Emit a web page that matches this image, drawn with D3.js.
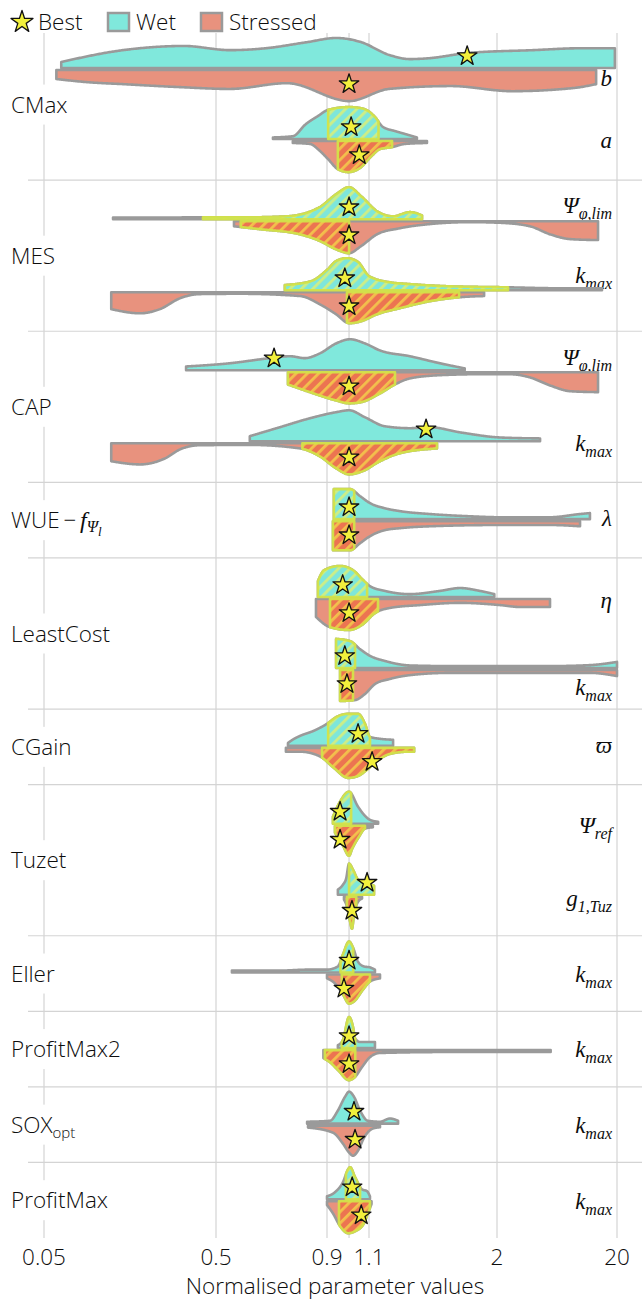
<!DOCTYPE html>
<html><head><meta charset="utf-8">
<script src="https://cdn.jsdelivr.net/npm/d3@7"></script>
<style>body{margin:0;background:#fff}svg{display:block}</style>
</head><body>
<svg id="c" width="642" height="1302"></svg>
<script>
// ---------------- data ----------------
const groups = ["CMax","MES","CAP","WUE","LeastCost","CGain","Tuzet","Eller","ProfitMax2","SOXopt","ProfitMax"];
const rowGroup = ["CMax","CMax","MES","MES","CAP","CAP","WUE","LeastCost","LeastCost","CGain","Tuzet","Tuzet","Eller","ProfitMax2","SOXopt","ProfitMax"];
const rowParam = ["b","a","Ψ_{φ,lim}","k_{max}","Ψ_{φ,lim}","k_{max}","λ","η","k_{max}","ϖ","Ψ_{ref}","g_{1,Tuz}","k_{max}","k_{max}","k_{max}","k_{max}"];
const tickValues = [0.05,0.5,0.9,1.1,2,20];
const gridValues = [0.05,0.5,0.9,1,1.1,2,20];
const legendLabels = ["Best","Wet","Stressed"];

// [normalised value, relative density]
const wetDensity = [
 [[0.063,0.19],[0.144,0.56],[0.326,0.69],[0.538,0.56],[0.652,0.62],[0.81,0.81],[0.94,0.94],[1.059,0.81],[1.208,0.41],[1.332,0.28],[1.463,0.31],[1.739,0.47],[3.99,0.56],[10.2,0.62],[19.2,0.62]],
 [[0.676,0.05],[0.751,0.09],[0.805,0.47],[0.858,0.72],[0.904,0.91],[1.0,1.0],[1.054,0.97],[1.095,0.88],[1.131,0.69],[1.174,0.38],[1.242,0.25],[1.301,0.16],[1.376,0.05]],
 [[0.126,0.05],[0.236,0.05],[0.42,0.06],[0.599,0.06],[0.728,0.09],[0.867,0.38],[0.94,0.78],[1.0,1.0],[1.059,0.72],[1.142,0.25],[1.231,0.09],[1.332,0.22],[1.409,0.12]],
 [[0.72,0.16],[0.826,0.28],[0.904,0.66],[0.94,0.91],[0.991,1.0],[1.044,0.88],[1.1,0.44],[1.208,0.25],[1.332,0.19],[1.613,0.12],[2.47,0.09],[6.7,0.06],[15.0,0.06]],
 [[0.335,0.12],[0.538,0.22],[0.665,0.38],[0.74,0.44],[0.8,0.38],[0.867,0.53],[0.94,0.84],[1.005,0.97],[1.079,0.84],[1.158,0.62],[1.332,0.44],[1.532,0.22],[1.72,0.06]],
 [[0.598,0.16],[0.701,0.44],[0.822,0.72],[0.94,0.91],[1.0,0.97],[1.079,0.75],[1.185,0.47],[1.332,0.41],[1.463,0.44],[1.683,0.28],[2.12,0.12],[4.57,0.09]],
 [[0.93,0.94],[1.005,0.94],[1.054,0.72],[1.105,0.5],[1.185,0.34],[1.271,0.25],[1.463,0.16],[1.763,0.09],[2.12,0.06],[5.53,0.06],[9.84,0.16],[11.9,0.19]],
 [[0.858,0.5],[0.887,0.84],[0.958,0.97],[1.019,0.84],[1.069,0.53],[1.105,0.34],[1.185,0.19],[1.332,0.09],[1.532,0.19],[1.683,0.28],[1.847,0.19],[1.975,0.09]],
 [[0.94,0.91],[1.005,0.84],[1.054,0.59],[1.105,0.38],[1.185,0.22],[1.332,0.08],[1.606,0.06],[5.53,0.06],[11.9,0.09],[20,0.19]],
 [[0.732,0.09],[0.75,0.19],[0.78,0.31],[0.839,0.47],[0.9,0.69],[0.944,0.91],[0.996,1.0],[1.044,1.0],[1.079,0.69],[1.105,0.28],[1.158,0.22],[1.231,0.19]],
 [[0.926,0.22],[0.958,0.69],[1.0,1.0],[1.044,0.53],[1.074,0.28],[1.105,0.12],[1.148,0.06]],
 [[0.948,0.16],[0.971,0.31],[0.986,0.5],[1.0,0.97],[1.019,0.78],[1.044,0.47],[1.094,0.34],[1.126,0.28]],
 [[0.544,0.06],[0.701,0.06],[0.81,0.09],[0.9,0.09],[0.948,0.19],[0.971,0.56],[1.0,0.97],[1.019,0.78],[1.044,0.34],[1.074,0.19],[1.105,0.16],[1.131,0.09]],
 [[0.948,0.09],[0.971,0.25],[1.0,0.97],[1.019,0.66],[1.029,0.31],[1.054,0.19],[1.131,0.19]],
 [[0.81,0.06],[0.913,0.09],[0.948,0.41],[0.981,0.84],[1.0,1.0],[1.024,0.84],[1.054,0.41],[1.094,0.09],[1.158,0.06],[1.213,0.16],[1.26,0.09]],
 [[0.9,0.09],[0.935,0.22],[0.971,0.53],[0.996,0.94],[1.005,1.0],[1.029,0.69],[1.064,0.31],[1.09,0.25],[1.105,0.09]]
];
const stressDensity = [
 [[0.059,0.28],[0.09,0.38],[0.144,0.44],[0.3,0.53],[0.538,0.59],[0.728,0.41],[1.0,0.97],[1.208,0.59],[1.613,0.5],[2.67,0.66],[8.77,0.56],[13.4,0.44]],
 [[0.751,0.06],[0.822,0.09],[0.867,0.31],[0.904,0.56],[0.948,0.88],[0.996,0.97],[1.054,0.84],[1.113,0.47],[1.158,0.25],[1.225,0.19],[1.301,0.09],[1.442,0.06]],
 [[0.55,0.16],[0.631,0.25],[0.78,0.41],[0.867,0.62],[0.94,0.88],[1.0,1.0],[1.059,0.78],[1.142,0.41],[1.271,0.22],[1.463,0.09],[1.763,0.03],[2.12,0.05],[3.77,0.16],[5.53,0.41],[8.12,0.56],[13.9,0.59]],
 [[0.123,0.53],[0.181,0.66],[0.236,0.53],[0.309,0.19],[0.4,0.06],[0.568,0.05],[0.78,0.12],[0.867,0.38],[0.94,0.69],[1.0,0.97],[1.059,0.91],[1.142,0.69],[1.271,0.5],[1.463,0.28],[1.675,0.16],[1.883,0.12]],
 [[0.732,0.38],[0.822,0.62],[0.94,0.88],[1.0,0.97],[1.054,0.94],[1.158,0.66],[1.242,0.38],[1.332,0.19],[1.532,0.09],[1.847,0.06],[2.57,0.06],[3.77,0.16],[5.53,0.41],[8.12,0.59],[13.9,0.62]],
 [[0.123,0.56],[0.181,0.66],[0.253,0.47],[0.309,0.19],[0.4,0.06],[0.598,0.05],[0.78,0.16],[0.867,0.41],[0.94,0.78],[1.0,0.97],[1.064,0.88],[1.158,0.56],[1.271,0.31],[1.511,0.16]],
 [[0.926,0.91],[1.005,0.91],[1.054,0.69],[1.105,0.47],[1.185,0.28],[1.271,0.22],[1.463,0.16],[2.12,0.12],[5.53,0.12],[9.84,0.16]],
 [[0.849,0.56],[0.913,0.88],[1.0,0.97],[1.064,0.81],[1.131,0.44],[1.213,0.28],[1.396,0.19],[1.683,0.12],[2.12,0.19],[3.11,0.25],[5.53,0.25]],
 [[0.958,0.97],[1.029,0.94],[1.079,0.75],[1.131,0.44],[1.213,0.28],[1.332,0.16],[1.606,0.09],[5.53,0.09],[11.9,0.09],[20,0.19]],
 [[0.724,0.12],[0.78,0.12],[0.839,0.19],[0.877,0.31],[0.929,0.62],[0.996,0.94],[1.044,0.88],[1.094,0.66],[1.142,0.41],[1.213,0.19],[1.32,0.12],[1.358,0.12]],
 [[0.935,0.22],[0.971,0.62],[1.0,0.94],[1.015,0.72],[1.049,0.34],[1.079,0.09],[1.12,0.05]],
 [[0.976,0.09],[0.99,0.31],[1.005,0.78],[1.014,1.0],[1.024,0.56],[1.044,0.16],[1.064,0.06]],
 [[0.9,0.12],[0.935,0.28],[0.971,0.62],[1.0,0.91],[1.024,0.84],[1.069,0.47],[1.105,0.22],[1.158,0.12]],
 [[0.883,0.25],[0.913,0.38],[0.948,0.62],[1.0,0.94],[1.029,0.84],[1.064,0.53],[1.105,0.22],[1.158,0.09],[1.606,0.06],[5.6,0.06]],
 [[0.814,0.06],[0.926,0.22],[0.971,0.56],[1.0,0.84],[1.019,0.94],[1.044,0.78],[1.074,0.38],[1.12,0.09],[1.158,0.05]],
 [[0.9,0.12],[0.926,0.38],[0.958,0.78],[0.996,1.0],[1.029,0.94],[1.074,0.69],[1.094,0.38],[1.113,0.09]]
];
// hatched (highlighted) value range per half, null = none
const wetHatch = [null,[0.905,1.15],[0.42,1.409],[0.72,2.47],null,null,[0.93,1.025],[0.858,1.09],[0.94,1.029],[0.905,1.105],[0.926,1.01],[1.0,1.126],[0.96,1.02],[0.966,1.03],null,[0.985,1.054]];
const stressHatch = [null,[0.948,1.225],[0.57,1.0],[0.99,1.675],[0.732,1.242],[0.79,1.511],[0.926,1.025],[0.913,1.147],[0.958,1.019],[0.877,1.358],[0.935,1.079],[0.99,1.035],[0.966,1.105],[0.89,1.03],null,[0.953,1.105]];
const wetBest = [1.74,1.01,1.0,0.98,0.68,1.436,1.0,0.97,0.98,1.044,0.958,1.09,1.0,1.0,1.024,1.015];
const stressBest = [1.0,1.05,1.0,1.0,1.0,1.0,1.0,1.0,0.99,1.116,0.958,1.014,0.976,1.0,1.029,1.06];

// ---------------- layout ----------------
const labelDy = [11,2,-13,-14,-12,3,0,4,20,0,2,4,2,2,2,3];
const C = {wet:"#80e8dc", stress:"#e8927e", edge:"#9a9a9a", hl:"#d3e349", grid:"#d4d4d4", text:"#0d0d0d"};
const SANS = "'Open Sans','Noto Sans',sans-serif";
const SERIF = "'Liberation Serif','DejaVu Serif',serif";
const SW = 300, FS = 22.5;

const svg = d3.select("#c");
const defs = svg.append("defs");
function mkPattern(id,bg,stripe){
  const p = defs.append("pattern").attr("id",id).attr("patternUnits","userSpaceOnUse")
    .attr("width",8).attr("height",8).attr("patternTransform","rotate(45)");
  p.append("rect").attr("width",8).attr("height",8).attr("fill",bg);
  p.append("rect").attr("width",2.8).attr("height",8).attr("fill",stripe);
}
mkPattern("hWet","#7ee6da","#cdee86");
mkPattern("hStress","#ec7451","#f3c04c");

const x = d3.scaleLinear().domain(tickValues.map(Math.log)).range([44,216,327,369,497,617]);
const X = v => x(Math.log(v));
const hScale = d3.scaleLinear().domain([0,1]).range([0,32]);
const rowScale = d3.scaleBand().domain(d3.range(rowGroup.length)).range([29,1238]);

const gInfo = groups.map(g=>{
  const idx = rowGroup.map((r,i)=>r===g?i:-1).filter(i=>i>=0);
  const top = rowScale(idx[0]), bot = rowScale(idx[idx.length-1])+rowScale.bandwidth();
  return {g, idx, top, bot, mid:(top+bot)/2};
});
const baseY = rowGroup.map((g,i)=>{
  const gi = gInfo.find(d=>d.g===g);
  if (gi.idx.length===1) return gi.mid;
  return gi.mid + (gi.idx.indexOf(i)===0?-1:1)*35.5;
});

// grid
const grid = svg.append("g");
grid.selectAll("line.v").data(gridValues).join("line")
  .attr("x1",d=>X(d)).attr("x2",d=>X(d)).attr("y1",33).attr("y2",1238)
  .attr("stroke",C.grid).attr("stroke-width",1.2);
grid.selectAll("line.h").data(gInfo.slice(0,-1)).join("line")
  .attr("x1",28).attr("x2",642).attr("y1",d=>d.bot).attr("y2",d=>d.bot)
  .attr("stroke",C.grid).attr("stroke-width",1.2);

// group labels with white backgrounds
const gl = svg.append("g");
gInfo.forEach(d=>{
  const bg = gl.append("rect").attr("fill","#fff");
  const t = gl.append("text").attr("x",11).attr("y",d.mid+8)
    .attr("font-family",SANS).attr("font-weight",SW).attr("font-size",FS).attr("fill",C.text);
  if (d.g==="WUE"){
    t.append("tspan").text("WUE\u2009\u2212\u2009");
    t.append("tspan").attr("font-family",SERIF).attr("font-style","italic").attr("font-size",24).text("f");
    t.append("tspan").attr("font-family",SERIF).attr("font-style","italic").attr("font-size",16).attr("dy",4).text("Ψ");
    t.append("tspan").attr("font-family",SERIF).attr("font-style","italic").attr("font-size",13).attr("dy",4).text("l");
  } else if (d.g==="SOXopt"){
    t.append("tspan").text("SOX");
    t.append("tspan").attr("font-size",15).attr("dy",5).text("opt");
  } else t.text(d.g);
  const bb = t.node().getBBox();
  bg.attr("x",0).attr("y",d.mid-20).attr("width",bb.x+bb.width+4).attr("height",40);
});

// parameter labels
const pl = svg.append("g");
rowParam.forEach((p,i)=>{
  const m = p.match(/^([^_]+)(?:_\{(.+)\})?$/);
  const t = pl.append("text").attr("x",612).attr("y",baseY[i]+labelDy[i]+6)
    .attr("text-anchor","end").attr("font-family",SERIF).attr("font-style","italic")
    .attr("font-size",23).attr("fill",C.text);
  t.append("tspan").text(m[1]);
  if (m[2]) t.append("tspan").attr("font-size",16).attr("dy",6).text(m[2]);
});

// violins
function sample(dens){
  const line = d3.line().x(d=>X(d[0])).y(d=>hScale(d[1])).curve(d3.curveMonotoneX);
  const path = svg.append("path").attr("d",line(dens)).attr("fill","none");
  const node = path.node(), L = node.getTotalLength(), pts=[];
  for (let k=0;k<=500;k++){ const q=node.getPointAtLength(L*k/500); pts.push([q.x,Math.max(0,q.y)]); }
  path.remove();
  pts.sort((a,b)=>a[0]-b[0]);
  return pts;
}
function hAt(pts,xv){
  for (let k=1;k<pts.length;k++){
    if (pts[k][0]>=xv){ const a=pts[k-1],b=pts[k]; const t=(b[0]-a[0])?(xv-a[0])/(b[0]-a[0]):0; return a[1]+t*(b[1]-a[1]); }
  }
  return pts[pts.length-1][1];
}
const vg = svg.append("g");
const hg = svg.append("g");
const lineGen = d3.line();
function drawHalf(dens, hatch, base, sign, fill, pat){
  const pts = sample(dens);
  const poly = [[pts[0][0],base]].concat(pts.map(p=>[p[0],base+sign*p[1]])).concat([[pts[pts.length-1][0],base]]);
  vg.append("path").attr("d",lineGen(poly)+"Z").attr("fill",fill)
    .attr("stroke",C.edge).attr("stroke-width",2.6).attr("stroke-linejoin","round");
  if (hatch){
    const xl = Math.max(X(hatch[0]),pts[0][0]), xr = Math.min(X(hatch[1]),pts[pts.length-1][0]);
    const inner = pts.filter(p=>p[0]>xl && p[0]<xr);
    const hp = [[xl,base],[xl,base+sign*hAt(pts,xl)]].concat(inner.map(p=>[p[0],base+sign*p[1]]))
      .concat([[xr,base+sign*hAt(pts,xr)],[xr,base]]);
    hg.append("path").attr("d",lineGen(hp)+"Z").attr("fill",`url(#${pat})`)
      .attr("stroke",C.hl).attr("stroke-width",2.6).attr("stroke-linejoin","round").attr("stroke-opacity",0.95);
  }
}
rowGroup.forEach((g,i)=>{
  drawHalf(wetDensity[i], wetHatch[i], baseY[i]-1, -1, C.wet, "hWet");
  drawHalf(stressDensity[i], stressHatch[i], baseY[i]+1, 1, C.stress, "hStress");
});

// best stars
const star = d3.symbol().type(d3.symbolStar).size(118);
const sg = svg.append("g");
rowGroup.forEach((g,i)=>{
  sg.append("path").attr("d",star()).attr("transform",`translate(${X(wetBest[i])},${baseY[i]-13})`)
    .attr("fill","#f2f03c").attr("stroke","#111").attr("stroke-width",1.3).attr("stroke-linejoin","round");
  sg.append("path").attr("d",star()).attr("transform",`translate(${X(stressBest[i])},${baseY[i]+15})`)
    .attr("fill","#f2f03c").attr("stroke","#111").attr("stroke-width",1.3).attr("stroke-linejoin","round");
});

// x axis labels
svg.append("g").selectAll("text").data(tickValues).join("text")
  .attr("x",d=>X(d)).attr("y",1265).attr("text-anchor","middle")
  .attr("font-family",SANS).attr("font-weight",SW).attr("font-size",FS).attr("fill",C.text).text(d=>String(d));
svg.append("text").attr("x",335).attr("y",1294).attr("text-anchor","middle")
  .attr("font-family",SANS).attr("font-weight",SW).attr("font-size",FS).attr("fill",C.text).text("Normalised parameter values");

// legend
const lg = svg.append("g");
lg.append("path").attr("d",d3.symbol().type(d3.symbolStar).size(150)()).attr("transform","translate(22,22)")
  .attr("fill","#f2f03c").attr("stroke","#111").attr("stroke-width",1.3).attr("stroke-linejoin","round");
lg.append("text").attr("x",38).attr("y",30).attr("font-family",SANS).attr("font-weight",SW).attr("font-size",FS).attr("fill",C.text).text(legendLabels[0]);
lg.append("rect").attr("x",108).attr("y",13).attr("width",21).attr("height",18).attr("fill",C.wet).attr("stroke",C.edge).attr("stroke-width",2.5);
lg.append("text").attr("x",136).attr("y",30).attr("font-family",SANS).attr("font-weight",SW).attr("font-size",FS).attr("fill",C.text).text(legendLabels[1]);
lg.append("rect").attr("x",201).attr("y",13).attr("width",21).attr("height",18).attr("fill",C.stress).attr("stroke",C.edge).attr("stroke-width",2.5);
lg.append("text").attr("x",229).attr("y",30).attr("font-family",SANS).attr("font-weight",SW).attr("font-size",FS).attr("fill",C.text).text(legendLabels[2]);
</script>
</body></html>
